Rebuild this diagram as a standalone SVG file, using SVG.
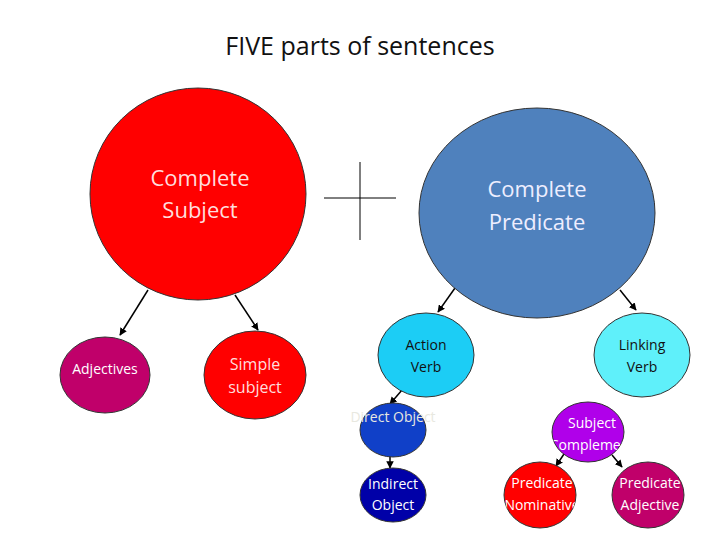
<svg xmlns="http://www.w3.org/2000/svg" width="720" height="540" viewBox="0 0 720 540">
<style>
text{font-family:"Open Sans","Liberation Sans",sans-serif;text-anchor:middle}
.n{stroke:#333;stroke-width:1}
.c{stroke:#000;stroke-width:1.5;marker-end:url(#ah)}
.w{fill:#fff;font-size:14px}
.d{fill:#111;font-size:14px}
</style>
<defs>
<marker id="ah" viewBox="0 0 10 10" refX="9" refY="5" markerWidth="5" markerHeight="5" orient="auto"><path d="M0,0L10,5L0,10z" fill="#000"/></marker>
<clipPath id="cSC"><ellipse cx="588" cy="432" rx="36" ry="30"/></clipPath>
<clipPath id="cPN"><ellipse cx="540" cy="495" rx="36" ry="33"/></clipPath>
<clipPath id="cPA"><ellipse cx="648" cy="495" rx="36" ry="33"/></clipPath>
</defs>
<rect width="720" height="540" fill="#fff"/>
<text x="360" y="55" font-size="25" fill="#111">FIVE parts of sentences</text>
<g id="connectors">
<line class="c" x1="148" y1="290" x2="120" y2="335"/>
<line class="c" x1="235" y1="295" x2="258" y2="330"/>
<line class="c" x1="455" y1="288" x2="438" y2="312"/>
<line class="c" x1="620" y1="290" x2="636" y2="310"/>
<line class="c" x1="402" y1="390" x2="390" y2="404"/>
<line class="c" x1="390" y1="456" x2="390" y2="468"/>
<line class="c" x1="564" y1="454" x2="556" y2="466"/>
<line class="c" x1="612" y1="455" x2="622" y2="467"/>
<line stroke="#000" x1="324" y1="198" x2="396" y2="198"/>
<line stroke="#000" x1="360" y1="162" x2="360" y2="240"/>
</g>
<g id="complete-subject"><ellipse class="n" cx="198" cy="194" rx="108" ry="106" fill="#ff0000"/>
<text x="200" y="186" font-size="22" fill="#fdd">Complete</text><text x="200" y="218" font-size="22" fill="#fdd">Subject</text></g>
<g id="complete-predicate"><ellipse class="n" cx="537" cy="213" rx="118" ry="105" fill="#4f81bd"/>
<text x="537" y="197" font-size="22" fill="#eef">Complete</text><text x="537" y="230" font-size="22" fill="#eef">Predicate</text></g>
<g id="adjectives"><ellipse class="n" cx="105" cy="375" rx="45" ry="38" fill="#c0006a"/>
<text class="w" x="105" y="374" fill="#fdf">Adjectives</text></g>
<g id="simple-subject"><ellipse class="n" cx="255" cy="375" rx="51" ry="44" fill="#ff0000"/>
<text x="255" y="370" font-size="16" fill="#fdd">Simple</text><text x="255" y="393" font-size="16" fill="#fdd">subject</text></g>
<g id="action-verb"><ellipse class="n" cx="426" cy="355" rx="48" ry="42" fill="#1ccdf5"/>
<text class="d" x="426" y="350">Action</text><text class="d" x="426" y="372">Verb</text></g>
<g id="linking-verb"><ellipse class="n" cx="642" cy="355" rx="48" ry="42" fill="#5ff0fa"/>
<text class="d" x="642" y="350">Linking</text><text class="d" x="642" y="372">Verb</text></g>
<g id="direct-object"><ellipse class="n" cx="393" cy="430" rx="33" ry="27" fill="#1040c8"/>
<text x="393" y="422" font-size="14" fill="#e8e8e0">Direct Object</text></g>
<g id="indirect-object"><ellipse class="n" cx="393" cy="495" rx="33" ry="27" fill="#0000a8"/>
<text class="w" x="393" y="489">Indirect</text><text class="w" x="393" y="510">Object</text></g>
<g id="subject-complement"><ellipse class="n" cx="588" cy="432" rx="36" ry="30" fill="#b000ea"/>
<g clip-path="url(#cSC)"><text class="w" x="592" y="428">Subject</text><text class="w" x="592" y="450">Complement</text></g></g>
<g id="predicate-nominative"><ellipse class="n" cx="540" cy="495" rx="36" ry="33" fill="#ff0000"/>
<g clip-path="url(#cPN)"><text class="w" x="542" y="488">Predicate</text><text class="w" x="542" y="510">Nominative</text></g></g>
<g id="predicate-adjective"><ellipse class="n" cx="648" cy="495" rx="36" ry="33" fill="#c0006a"/>
<g clip-path="url(#cPA)"><text class="w" x="650" y="488">Predicate</text><text class="w" x="650" y="510">Adjective</text></g></g>
</svg>
